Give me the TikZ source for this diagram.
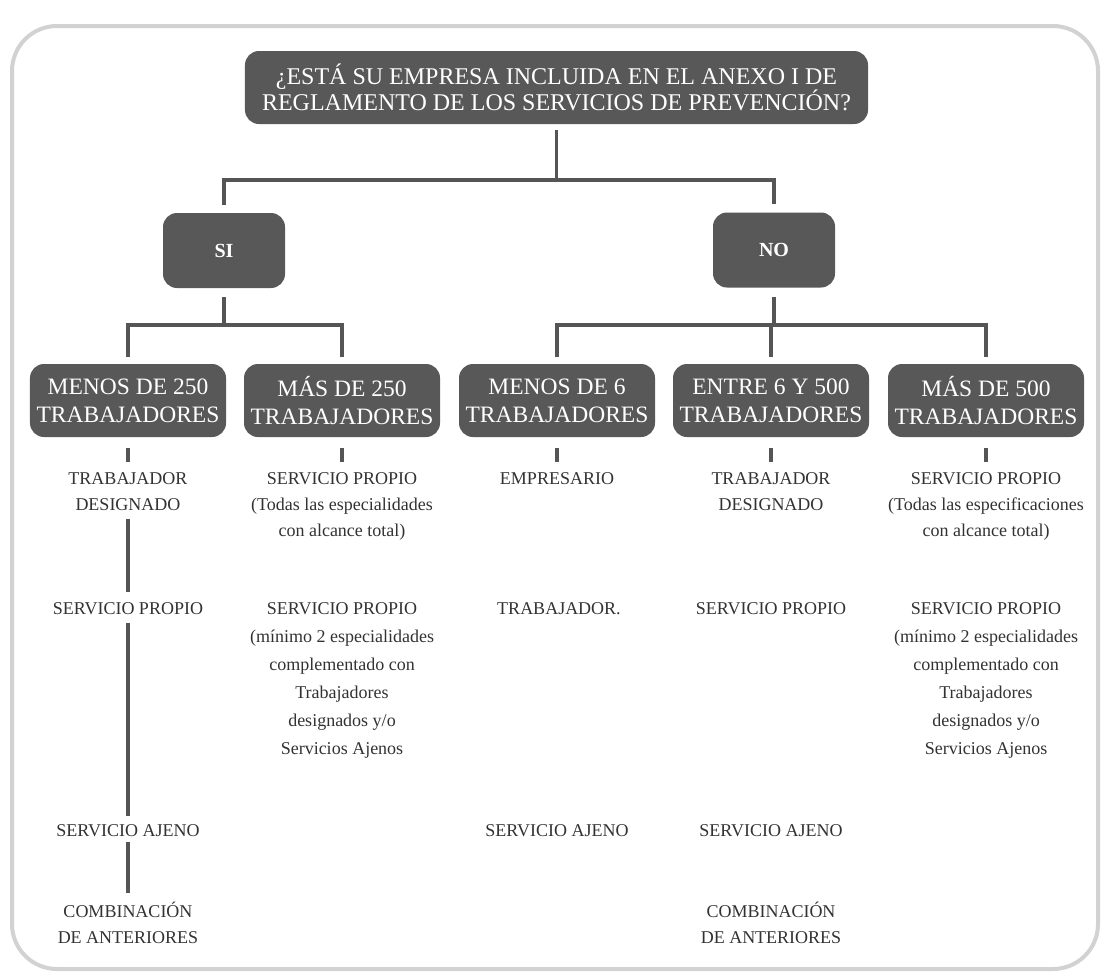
\documentclass[tikz,border=0pt]{standalone}
\usepackage{fontspec}
\setmainfont{Liberation Serif}
\definecolor{boxgray}{RGB}{88,88,88}
\definecolor{linegray}{RGB}{85,85,85}
\definecolor{framegray}{RGB}{210,210,210}
\definecolor{inkgray}{RGB}{50,50,50}

\begin{document}
\begin{tikzpicture}[x=1bp, y=-1bp]
  \useasboundingbox (0,0) rectangle (1110,979);
  \draw[framegray, line width=4bp, rounded corners=45bp] (12,26) rectangle (1098,969);  % Rahmen
  \tikzstyle{box}=[rounded corners=14bp, fill=boxgray, text=white, inner sep=0pt, align=center, minimum height=73bp, font=\fontsize{23.5bp}{28bp}\selectfont]
  \tikzstyle{answer}=[box, minimum width=122bp, minimum height=75bp, font=\bfseries\fontsize{20bp}{24bp}\selectfont]
  \tikzstyle{group}=[box, minimum width=196bp]
  \tikzstyle{item}=[anchor=north, inner sep=0pt, align=center, text=inkgray, font=\fontsize{18bp}{26bp}\selectfont]
  \tikzstyle{link}=[draw=linegray, line width=3.5bp]

  \node[box, minimum width=623bp, font=\fontsize{24bp}{26bp}\selectfont] (q) at (556.5, 87.5)
    {¿ESTÁ SU EMPRESA INCLUIDA EN EL ANEXO I DE\\REGLAMENTO DE LOS SERVICIOS DE PREVENCIÓN?};
  \node[answer] (si) at (224, 250.5) {SI};
  \node[answer] (no) at (774, 250)   {NO};

  \node[group] (b1) at (128, 400.5) {MENOS DE 250\\TRABAJADORES};
  \node[group] (b2) at (342, 400.5) {MÁS DE 250\\TRABAJADORES};
  \node[group] (b3) at (557, 400.5) {MENOS DE 6\\TRABAJADORES};
  \node[group] (b4) at (771, 400.5) {ENTRE 6 Y 500\\TRABAJADORES};
  \node[group] (b5) at (986, 400.5) {MÁS DE 500\\TRABAJADORES};

  \node[item] (t11) at (128, 472) {TRABAJADOR\\DESIGNADO};
  \node[item] (t12) at (128, 602) {SERVICIO PROPIO};
  \node[item] (t13) at (128, 824) {SERVICIO AJENO};
  \node[item] (t14) at (128, 902) {COMBINACIÓN\\DE ANTERIORES};
  \node[item] (t21) at (342, 472) {SERVICIO PROPIO\\(Todas las especialidades\\con alcance total)};
  \node[item, font=\fontsize{18bp}{28bp}\selectfont] (t22) at (342, 602)
    {SERVICIO PROPIO\\(mínimo 2 especialidades\\complementado con\\Trabajadores\\designados y/o\\Servicios Ajenos};
  \node[item] (t31) at (557, 472) {EMPRESARIO};
  \node[item] (t32) at (559, 602) {TRABAJADOR.};
  \node[item] (t33) at (557, 824) {SERVICIO AJENO};
  \node[item] (t41) at (771, 472) {TRABAJADOR\\DESIGNADO};
  \node[item] (t42) at (771, 602) {SERVICIO PROPIO};
  \node[item] (t43) at (771, 824) {SERVICIO AJENO};
  \node[item] (t44) at (771, 902) {COMBINACIÓN\\DE ANTERIORES};
  \node[item] (t51) at (986, 472) {SERVICIO PROPIO\\(Todas las especificaciones\\con alcance total)};
  \node[item, font=\fontsize{18bp}{28bp}\selectfont] (t52) at (986, 602)
    {SERVICIO PROPIO\\(mínimo 2 especialidades\\complementado con\\Trabajadores\\designados y/o\\Servicios Ajenos};

  \coordinate (j1) at (556.5, 180);
  \coordinate (j2) at (224, 325);
  \coordinate (j3) at (774, 325);

  \draw[link] ([yshift=-6bp]q.south) -- (j1);
  \draw[link] ([yshift=8bp]si.north) |- (j1) -| ([yshift=8bp]no.north);
  \draw[link] ([yshift=-9bp]si.south) -- (j2);
  \draw[link] ([yshift=7bp]b1.north) |- (j2) -| ([yshift=7bp]b2.north);
  \draw[link] ([yshift=-9bp]no.south) -- (j3);
  \draw[link] ([yshift=7bp]b3.north) |- (j3) -| ([yshift=7bp]b5.north);
  \draw[link] (j3 -| b4.north) -- ([yshift=7bp]b4.north);

  \path (b1) edge[link, shorten <=11bp, shorten >=10bp] (t11);
  \path (b2) edge[link, shorten <=11bp, shorten >=10bp] (t21);
  \path (b3) edge[link, shorten <=11bp, shorten >=10bp] (t31);
  \path (b4) edge[link, shorten <=11bp, shorten >=10bp] (t41);
  \path (b5) edge[link, shorten <=11bp, shorten >=10bp] (t51);

  \path (t11) edge[link, shorten <=9bp, shorten >=10bp] (t12);
  \path (t12) edge[link, shorten <=8bp, shorten >=8bp] (t13);
  \path (t13) edge[link, shorten <=5bp, shorten >=9bp] (t14);
\end{tikzpicture}
\end{document}
